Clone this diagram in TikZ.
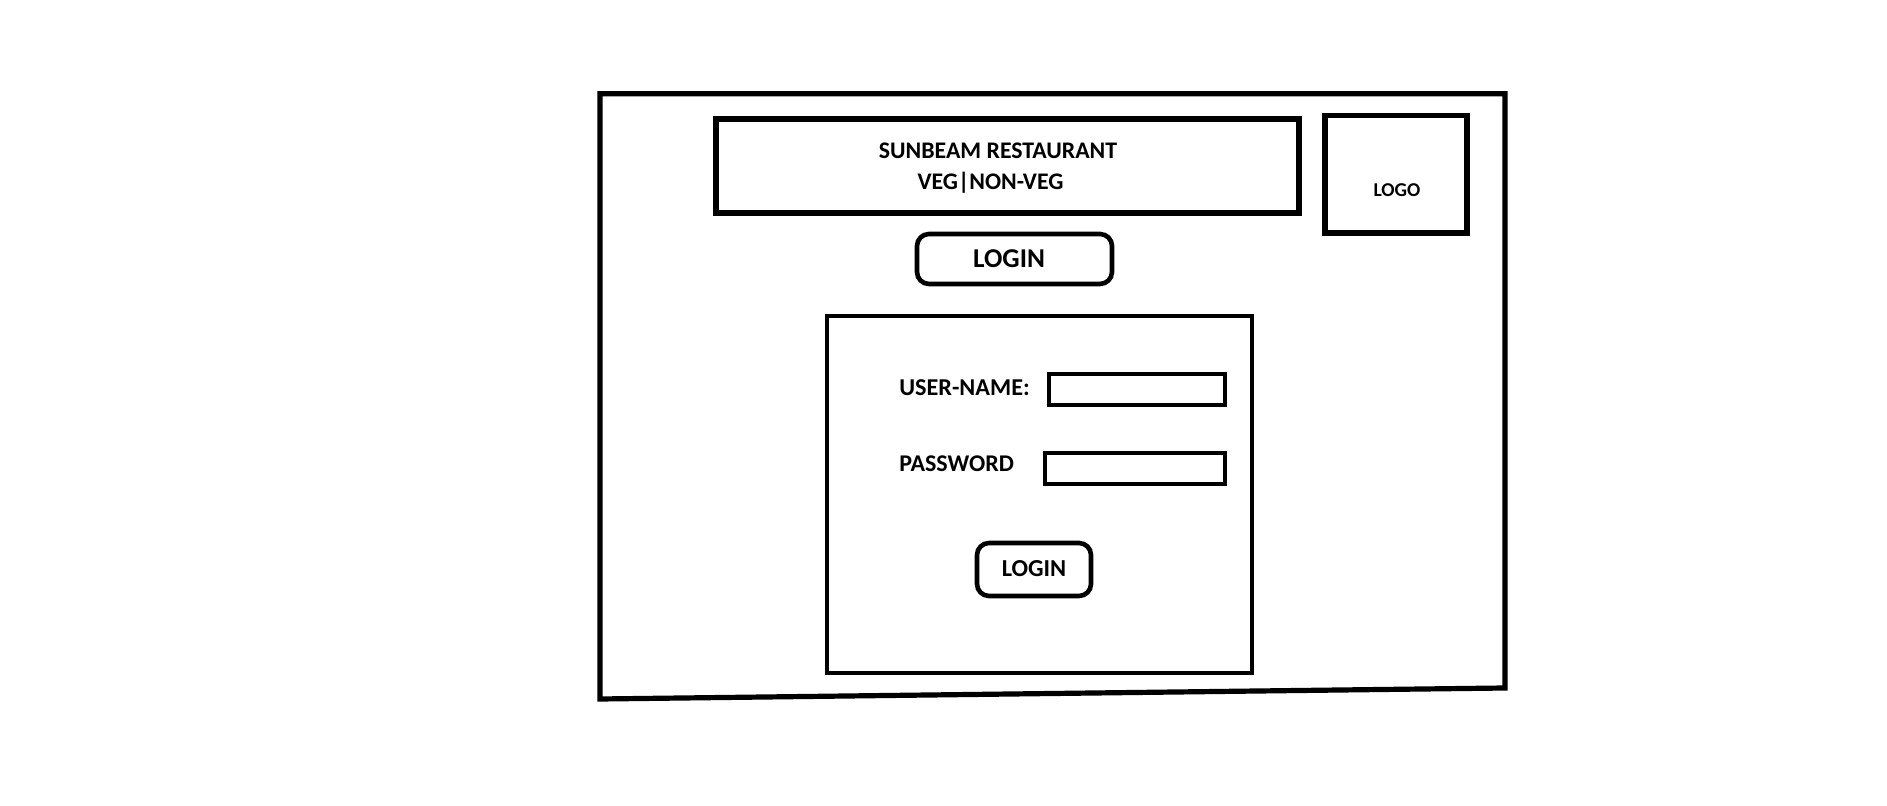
\documentclass[tikz,border=0pt]{standalone}
\usepackage{fontspec}
\setmainfont{Carlito}
\begin{document}
\begin{tikzpicture}[x=0.5pt,y=-0.5pt,
  frame/.style={draw=black,line width=2.6pt},
  inner/.style={draw=black,line width=2.3pt},
  btn/.style={draw=black,line width=2.3pt,rounded corners=6pt},
  lbl/.style={inner sep=0pt,anchor=base,font=\bfseries},
  lbll/.style={inner sep=0pt,anchor=base west,font=\bfseries}]
\useasboundingbox (0,0) rectangle (1887,806);
% outer frame
\draw[frame,line join=miter] (600,93.7) -- (1505,93.7) -- (1505,688) -- (600,699) -- cycle;
% header
\draw[frame] (716,119) rectangle (1299,213);
\node[lbl,font=\bfseries\fontsize{11.9}{13}\selectfont] (title) at (998,159) {SUNBEAM RESTAURANT};
\node[lbl,font=\bfseries\fontsize{11.9}{13}\selectfont] (sub) at (990.5,190) {VEG|NON-VEG};
% logo
\draw[frame] (1325,115.5) rectangle (1467,233);
\node[lbl,font=\bfseries\fontsize{9.8}{11}\selectfont] (logo) at (1397,197) {LOGO};
% top login button
\draw[btn] (917,234) rectangle (1112,284);
\node[lbl,font=\bfseries\fontsize{13.6}{16}\selectfont] (toplogin) at (1009,267.5) {LOGIN};
% login panel
\draw[inner] (827,316) rectangle (1252,673);
\node[lbll,font=\bfseries\fontsize{12.1}{14}\selectfont] (uname) at (899,396) {USER-NAME:};
\draw[inner] (1049,374) rectangle (1225,405);
\node[lbll,font=\bfseries\fontsize{12}{14}\selectfont] (pwd) at (899,472) {PASSWORD};
\draw[inner] (1045,453) rectangle (1225,484);
\draw[btn] (977,543) rectangle (1091,596);
\node[lbl,font=\bfseries\fontsize{12.2}{14}\selectfont] (login) at (1034,577) {LOGIN};
\end{tikzpicture}
\end{document}
